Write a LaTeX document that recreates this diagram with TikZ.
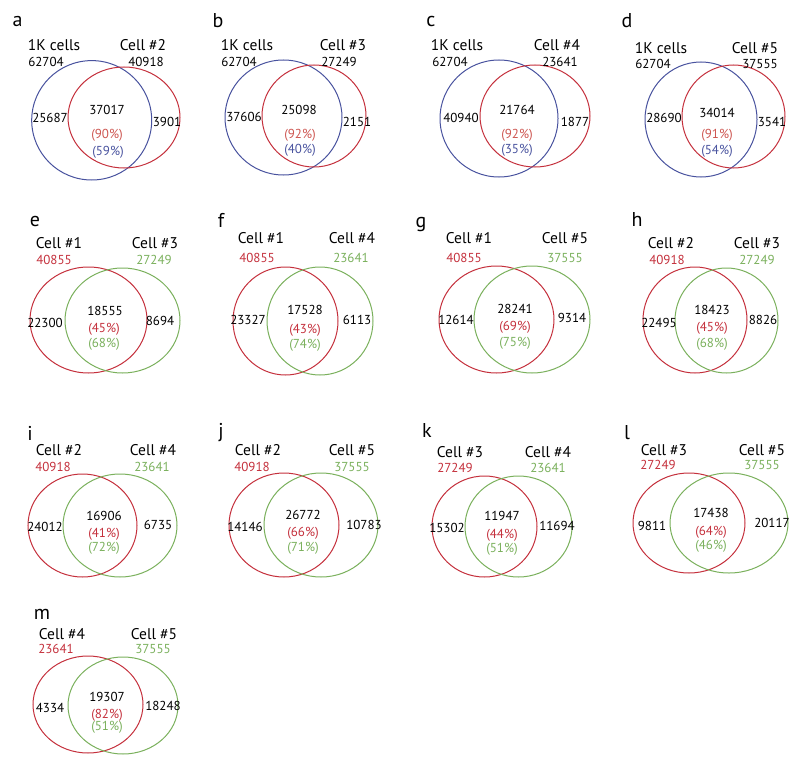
\documentclass[tikz,border=0pt]{standalone}
\usepackage{fontspec}
\setmainfont{PT Sans}
\definecolor{bluec}{RGB}{72,82,158}
\definecolor{redc}{RGB}{196,48,60}
\definecolor{greenc}{RGB}{122,176,92}
\definecolor{pctred}{RGB}{205,85,80}
\tikzset{
  plab/.style={inner sep=0pt,font=\fontsize{20}{22}\selectfont},
  head/.style={inner sep=0pt,font=\fontsize{15.5}{17}\selectfont},
  num/.style={inner sep=0pt,font=\fontsize{13}{15}\selectfont},
  setA/.style={draw=bluec,line width=1pt},
  setB/.style={draw=redc,line width=1pt},
  setC/.style={draw=greenc,line width=1pt}
}
\begin{document}
\begin{tikzpicture}[x=1pt,y=-1pt]
\useasboundingbox (0,0) rectangle (800,765);

% row 1: 1K cells vs single cells
\draw[setA] (91.7,120.3) ellipse [x radius=60pt, y radius=59.7pt];
\draw[setB] (124,117.5) ellipse [x radius=56pt, y radius=50.5pt];
\node[plab] (a) at (17.5,22) {a};
\node[head] (a-h1) at (54,45) {1K cells};
\node[head] (a-h2) at (143,45) {Cell \#2};
\node[num] (a-t1) at (46,62) {62704};
\node[num] (a-t2) at (146,62) {40918};
\node[num] (a-l) at (50,118) {25687};
\node[num] (a-m) at (107,110) {37017};
\node[num,text=pctred] (a-p1) at (107,135) {(90\%)};
\node[num,text=bluec] (a-p2) at (108,152) {(59\%)};
\node[num] (a-r) at (167,122) {3901};

\draw[setA] (283.5,117.5) ellipse [x radius=58.5pt, y radius=57.5pt];
\draw[setB] (314,116) ellipse [x radius=52pt, y radius=51pt];
\node[plab] (b) at (218,21) {b};
\node[head] (b-h1) at (247,45) {1K cells};
\node[head] (b-h2) at (343,45) {Cell \#3};
\node[num] (b-t1) at (239,62) {62704};
\node[num] (b-t2) at (339,62) {27249};
\node[num] (b-l) at (244,117) {37606};
\node[num] (b-m) at (299,110) {25098};
\node[num,text=pctred] (b-p1) at (300,135) {(92\%)};
\node[num,text=bluec] (b-p2) at (300,150) {(40\%)};
\node[num] (b-r) at (357,122) {2151};

\draw[setA] (499,118.5) ellipse [x radius=59pt, y radius=58.5pt];
\draw[setB] (535,116) ellipse [x radius=55pt, y radius=51pt];
\node[plab] (c) at (431,22) {c};
\node[head] (c-h1) at (457,45) {1K cells};
\node[head] (c-h2) at (557,45) {Cell \#4};
\node[num] (c-t1) at (450,62) {62704};
\node[num] (c-t2) at (560,62) {23641};
\node[num] (c-l) at (461,118) {40940};
\node[num] (c-m) at (517,110) {21764};
\node[num,text=pctred] (c-p1) at (517,135) {(92\%)};
\node[num,text=bluec] (c-p2) at (517,150) {(35\%)};
\node[num] (c-r) at (575,122) {1877};

\draw[setA] (701,119.5) ellipse [x radius=56pt, y radius=57.5pt];
\draw[setB] (733.5,116.5) ellipse [x radius=51.5pt, y radius=51.5pt];
\node[plab] (d) at (627,21) {d};
\node[head] (d-h1) at (661,48) {1K cells};
\node[head] (d-h2) at (755,48) {Cell \#5};
\node[num] (d-t1) at (653,64) {62704};
\node[num] (d-t2) at (760,64) {37555};
\node[num] (d-l) at (664,118) {28690};
\node[num] (d-m) at (717,113) {34014};
\node[num,text=pctred] (d-p1) at (717,135) {(91\%)};
\node[num,text=bluec] (d-p2) at (717,151) {(54\%)};
\node[num] (d-r) at (772,122) {3541};

% row 2
\draw[setB] (88.5,320) ellipse [x radius=58.5pt, y radius=53pt];
\draw[setC] (122.5,320.5) ellipse [x radius=57.5pt, y radius=52.5pt];
\node[plab] (e) at (35,221) {e};
\node[head] (e-h1) at (59,243) {Cell \#1};
\node[head] (e-h2) at (155,243) {Cell \#3};
\node[num,text=redc] (e-t1) at (54,260) {40855};
\node[num,text=greenc] (e-t2) at (154,260) {27249};
\node[num] (e-l) at (45,323) {22300};
\node[num] (e-m) at (105,311) {18555};
\node[num,text=redc] (e-p1) at (104,329) {(45\%)};
\node[num,text=greenc] (e-p2) at (104,344) {(68\%)};
\node[num] (e-r) at (160,321) {8694};

\draw[setB] (285.5,321) ellipse [x radius=52.5pt, y radius=54pt];
\draw[setC] (320,321) ellipse [x radius=53pt, y radius=54pt];
\node[plab] (f) at (221,220) {f};
\node[head] (f-h1) at (261,238) {Cell \#1};
\node[head] (f-h2) at (352,238) {Cell \#4};
\node[num,text=redc] (f-t1) at (257,258) {40855};
\node[num,text=greenc] (f-t2) at (351,258) {23641};
\node[num] (f-l) at (248,320) {23327};
\node[num] (f-m) at (305,310) {17528};
\node[num,text=redc] (f-p1) at (305,330) {(43\%)};
\node[num,text=greenc] (f-p2) at (305,345) {(74\%)};
\node[num] (f-r) at (357,320) {6113};

\draw[setB] (496.5,319.5) ellipse [x radius=57.5pt, y radius=53.5pt];
\draw[setC] (532,319.5) ellipse [x radius=58pt, y radius=53.5pt];
\node[plab] (g) at (421,225) {g};
\node[head] (g-h1) at (469,238) {Cell \#1};
\node[head] (g-h2) at (565,238) {Cell \#5};
\node[num,text=redc] (g-t1) at (464,258) {40855};
\node[num,text=greenc] (g-t2) at (565,258) {37555};
\node[num] (g-l) at (456,320) {12614};
\node[num] (g-m) at (515,309) {28241};
\node[num,text=redc] (g-p1) at (515,327) {(69\%)};
\node[num,text=greenc] (g-p2) at (515,343) {(75\%)};
\node[num] (g-r) at (572,318) {9314};

\draw[setB] (695,320) ellipse [x radius=52pt, y radius=53pt];
\draw[setC] (726.5,320.5) ellipse [x radius=51.5pt, y radius=52.5pt];
\node[plab] (h) at (637,219) {h};
\node[head] (h-h1) at (671,243) {Cell \#2};
\node[head] (h-h2) at (757,243) {Cell \#3};
\node[num,text=redc] (h-t1) at (667,260) {40918};
\node[num,text=greenc] (h-t2) at (757,260) {27249};
\node[num] (h-l) at (659,323) {22495};
\node[num] (h-m) at (712,310) {18423};
\node[num,text=redc] (h-p1) at (712,328) {(45\%)};
\node[num,text=greenc] (h-p2) at (712,344) {(68\%)};
\node[num] (h-r) at (763,320) {8826};

% row 3
\draw[setB] (82.5,525.5) ellipse [x radius=54.5pt, y radius=51.5pt];
\draw[setC] (120,525.5) ellipse [x radius=57pt, y radius=51.5pt];
\node[plab] (i) at (30,433) {i};
\node[head] (i-h1) at (59,450) {Cell \#2};
\node[head] (i-h2) at (153,450) {Cell \#4};
\node[num,text=redc] (i-t1) at (53,467) {40918};
\node[num,text=greenc] (i-t2) at (152,467) {23641};
\node[num] (i-l) at (45,527) {24012};
\node[num] (i-m) at (104,516) {16906};
\node[num,text=redc] (i-p1) at (104,534) {(41\%)};
\node[num,text=greenc] (i-p2) at (104,548) {(72\%)};
\node[num] (i-r) at (158,525) {6735};

\draw[setB] (284,525) ellipse [x radius=55pt, y radius=52pt];
\draw[setC] (321,525) ellipse [x radius=57pt, y radius=52pt];
\node[plab] (j) at (221,433) {j};
\node[head] (j-h1) at (258,450) {Cell \#2};
\node[head] (j-h2) at (352,450) {Cell \#5};
\node[num,text=redc] (j-t1) at (252,467) {40918};
\node[num,text=greenc] (j-t2) at (352,467) {37555};
\node[num] (j-l) at (245,527) {14146};
\node[num] (j-m) at (303,515) {26772};
\node[num,text=redc] (j-p1) at (303,533) {(66\%)};
\node[num,text=greenc] (j-p2) at (303,548) {(71\%)};
\node[num] (j-r) at (364,525) {10783};

\draw[setB] (484.5,526.5) ellipse [x radius=52.5pt, y radius=50.5pt];
\draw[setC] (518.5,526.5) ellipse [x radius=53.5pt, y radius=50.5pt];
\node[plab] (k) at (427,430) {k};
\node[head] (k-h1) at (460,452) {Cell \#3};
\node[head] (k-h2) at (548,452) {Cell \#4};
\node[num,text=redc] (k-t1) at (455,468) {27249};
\node[num,text=greenc] (k-t2) at (548,468) {23641};
\node[num] (k-l) at (447,528) {15302};
\node[num] (k-m) at (502,516) {11947};
\node[num,text=redc] (k-p1) at (502,535) {(44\%)};
\node[num,text=greenc] (k-p2) at (502,549) {(51\%)};
\node[num] (k-r) at (557,526) {11694};

\draw[setB] (689,523) ellipse [x radius=56pt, y radius=50pt];
\draw[setC] (729,523) ellipse [x radius=59pt, y radius=50pt];
\node[plab] (l) at (627,433) {l};
\node[head] (l-h1) at (664,450) {Cell \#3};
\node[head] (l-h2) at (762,450) {Cell \#5};
\node[num,text=redc] (l-t1) at (658,465) {27249};
\node[num,text=greenc] (l-t2) at (762,465) {37555};
\node[num] (l-l) at (652,526) {9811};
\node[num] (l-m) at (711,513) {17438};
\node[num,text=redc] (l-p1) at (711,532) {(64\%)};
\node[num,text=greenc] (l-p2) at (711,546) {(46\%)};
\node[num] (l-r) at (772,523) {20117};

% row 4
\draw[setB] (88,704.5) ellipse [x radius=55pt, y radius=48.5pt];
\draw[setC] (123,705.5) ellipse [x radius=55pt, y radius=48.5pt];
\node[plab] (m) at (42,614) {m};
\node[head] (m-h1) at (62,634) {Cell \#4};
\node[head] (m-h2) at (154,634) {Cell \#5};
\node[num,text=redc] (m-t1) at (56,649) {23641};
\node[num,text=greenc] (m-t2) at (153,649) {37555};
\node[num] (m-l) at (50,708) {4334};
\node[num] (m-m) at (107,697) {19307};
\node[num,text=redc] (m-p1) at (107,715) {(82\%)};
\node[num,text=greenc] (m-p2) at (107,727) {(51\%)};
\node[num] (m-r) at (163,706) {18248};
\end{tikzpicture}
\end{document}
